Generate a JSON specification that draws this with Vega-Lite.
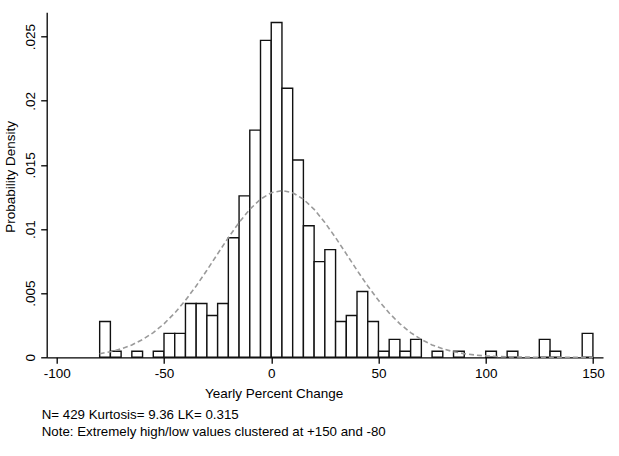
{
  "$schema": "https://vega.github.io/schema/vega-lite/v6.json",
  "autosize": {"type": "none"},
  "padding": {"left": 46.7, "top": 12.3, "right": 16, "bottom": 98.7},
  "width": 556.3,
  "height": 345,
  "background": "white",
  "config": {
    "view": {"stroke": null},
    "font": "Liberation Sans",
    "axis": {"grid": false, "domainColor": "#000", "tickColor": "#000", "labelColor": "#000", "titleColor": "#000", "labelFont": "Liberation Sans", "titleFont": "Liberation Sans", "labelFontSize": 13.5, "titleFontSize": 13.5, "titleFontWeight": "normal", "tickSize": 6, "domainWidth": 1.3, "tickWidth": 1.3}
  },
  "title": {
    "text": ["N= 429 Kurtosis= 9.36 LK= 0.315", "Note: Extremely high/low values clustered at +150 and -80"],
    "orient": "bottom",
    "anchor": "start",
    "frame": "group",
    "align": "left",
    "font": "Liberation Sans",
    "fontSize": 13.3,
    "fontWeight": "normal",
    "color": "#000",
    "lineHeight": 17,
    "offset": 8,
    "dx": -5
  },
  "datasets": {
    "bars": [
      {"start": -80, "end": -75, "density": 0.002797},
      {"start": -75, "end": -70, "density": 0.000466},
      {"start": -65, "end": -60, "density": 0.000466},
      {"start": -55, "end": -50, "density": 0.000466},
      {"start": -50, "end": -45, "density": 0.001865},
      {"start": -45, "end": -40, "density": 0.001865},
      {"start": -40, "end": -35, "density": 0.004196},
      {"start": -35, "end": -30, "density": 0.004196},
      {"start": -30, "end": -25, "density": 0.003263},
      {"start": -25, "end": -20, "density": 0.004196},
      {"start": -20, "end": -15, "density": 0.009324},
      {"start": -15, "end": -10, "density": 0.012587},
      {"start": -10, "end": -5, "density": 0.017716},
      {"start": -5, "end": 0, "density": 0.024709},
      {"start": 0, "end": 5, "density": 0.026107},
      {"start": 5, "end": 10, "density": 0.020979},
      {"start": 10, "end": 15, "density": 0.015385},
      {"start": 15, "end": 20, "density": 0.010256},
      {"start": 20, "end": 25, "density": 0.007459},
      {"start": 25, "end": 30, "density": 0.008392},
      {"start": 30, "end": 35, "density": 0.002797},
      {"start": 35, "end": 40, "density": 0.003263},
      {"start": 40, "end": 45, "density": 0.005128},
      {"start": 45, "end": 50, "density": 0.002797},
      {"start": 50, "end": 55, "density": 0.000466},
      {"start": 55, "end": 60, "density": 0.001399},
      {"start": 60, "end": 65, "density": 0.000466},
      {"start": 65, "end": 70, "density": 0.001399},
      {"start": 75, "end": 80, "density": 0.000466},
      {"start": 85, "end": 90, "density": 0.000466},
      {"start": 100, "end": 105, "density": 0.000466},
      {"start": 110, "end": 115, "density": 0.000466},
      {"start": 125, "end": 130, "density": 0.001399},
      {"start": 130, "end": 135, "density": 0.000466},
      {"start": 145, "end": 150, "density": 0.001865}
    ],
    "curve": [
      {"x": -80, "d": 0.000281}, {"x": -75, "d": 0.000436}, {"x": -70, "d": 0.000658},
      {"x": -65, "d": 0.000966}, {"x": -60, "d": 0.001382}, {"x": -55, "d": 0.001925},
      {"x": -50, "d": 0.002612}, {"x": -45, "d": 0.003452}, {"x": -40, "d": 0.004441},
      {"x": -35, "d": 0.005563}, {"x": -30, "d": 0.006787}, {"x": -25, "d": 0.008065},
      {"x": -20, "d": 0.009331}, {"x": -15, "d": 0.010514}, {"x": -10, "d": 0.011538},
      {"x": -5, "d": 0.012328}, {"x": 0, "d": 0.012828}, {"x": 5, "d": 0.0130},
      {"x": 10, "d": 0.012828}, {"x": 15, "d": 0.012328}, {"x": 20, "d": 0.011538},
      {"x": 25, "d": 0.010514}, {"x": 30, "d": 0.009331}, {"x": 35, "d": 0.008065},
      {"x": 40, "d": 0.006787}, {"x": 45, "d": 0.005563}, {"x": 50, "d": 0.004441},
      {"x": 55, "d": 0.003452}, {"x": 60, "d": 0.002612}, {"x": 65, "d": 0.001925},
      {"x": 70, "d": 0.001382}, {"x": 75, "d": 0.000966}, {"x": 80, "d": 0.000658},
      {"x": 85, "d": 0.000436}, {"x": 90, "d": 0.000281}, {"x": 95, "d": 0.000177},
      {"x": 100, "d": 0.000108}, {"x": 105, "d": 0.0000645}, {"x": 110, "d": 0.0000374},
      {"x": 115, "d": 0.0000212}, {"x": 120, "d": 0.0000117}, {"x": 125, "d": 0.000006},
      {"x": 135, "d": 0.0000015}, {"x": 150, "d": 0.0000001}
    ]
  },
  "layer": [
    {
      "data": {"name": "bars"},
      "mark": {"type": "rect", "fill": "white", "stroke": "#111", "strokeWidth": 1.4},
      "encoding": {
        "x": {"field": "start", "type": "quantitative",
          "scale": {"domain": [-104.7, 154.7], "nice": false, "zero": false},
          "axis": {"values": [-100, -50, 0, 50, 100, 150], "labelExpr": "toString(datum.value)", "title": "Yearly Percent Change", "labelPadding": 3, "titleX": 227, "titleY": 40, "titleBaseline": "alphabetic", "titleAlign": "center"}},
        "x2": {"field": "end"},
        "y": {"field": "density", "type": "quantitative",
          "scale": {"domain": [0, 0.0269], "nice": false},
          "axis": {"values": [0, 0.005, 0.01, 0.015, 0.02, 0.025], "labelExpr": "datum.value == 0 ? '0' : replace(toString(datum.value), '0.', '.')", "labelAngle": -90, "labelAlign": "center", "labelBaseline": "bottom", "labelPadding": 3, "title": "Probability Density", "titleAngle": -90, "titleX": -36, "titleY": 164, "titleAlign": "center", "titleBaseline": "middle"}},
        "y2": {"datum": 0}
      }
    },
    {
      "data": {"name": "curve"},
      "mark": {"type": "line", "color": "#9a9a9a", "strokeWidth": 1.6, "strokeDash": [5, 3]},
      "encoding": {
        "x": {"field": "x", "type": "quantitative"},
        "y": {"field": "d", "type": "quantitative"}
      }
    }
  ]
}
